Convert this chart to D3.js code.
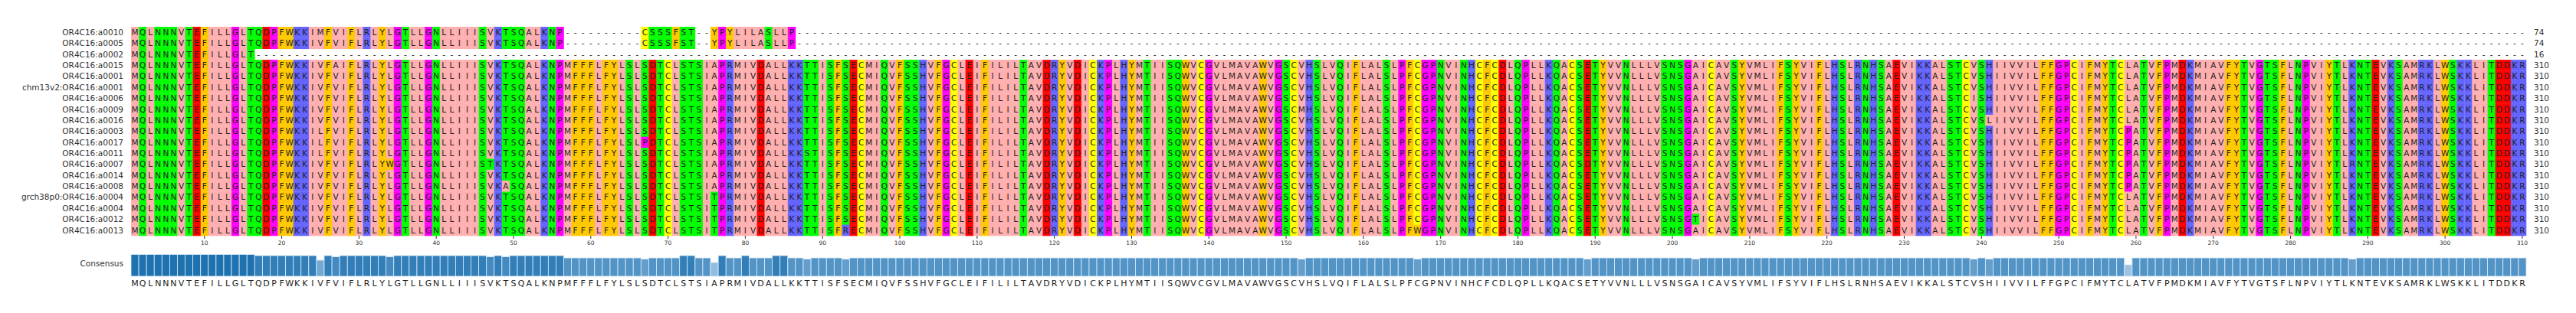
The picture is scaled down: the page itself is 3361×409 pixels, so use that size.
<!DOCTYPE html>
<html>
<head>
<meta charset="utf-8">
<script src="https://cdn.jsdelivr.net/npm/d3@7"></script>
<style>
  body { margin: 0; background: #fff; }
  text { font-family: "DejaVu Sans", sans-serif; }
</style>
</head>
<body>
<svg id="msa" width="3361" height="409"></svg>
<script>
// sequence names, top to bottom
const names = [
  'OR4C16:a0010', 'OR4C16:a0005', 'OR4C16:a0002', 'OR4C16:a0015', 'OR4C16:a0001',
  'chm13v2:OR4C16:a0001', 'OR4C16:a0006', 'OR4C16:a0009', 'OR4C16:a0016', 'OR4C16:a0003',
  'OR4C16:a0017', 'OR4C16:a0011', 'OR4C16:a0007', 'OR4C16:a0014', 'OR4C16:a0008',
  'grch38p0:OR4C16:a0004', 'OR4C16:a0004', 'OR4C16:a0012', 'OR4C16:a0013'
]
const lengths = [74, 74, 16, 310, 310, 310, 310, 310, 310, 310, 310, 310, 310, 310, 310, 310, 310, 310, 310]

const consensus =
  'MQLNNNVTEFILLGLTQDPFWKKIVFVIFLRLYLGTLLGNLLIIISVKTSQALKNPMFFFLFYLSLSDTCLSTSIAPRM' +
  'IVDALLKKTTISFSECMIQVFSSHVFGCLEIFILILTAVDRYVDICKPLHYMTIISQWVCGVLMAVAWVGSCVHSLVQI' +
  'FLALSLPFCGPNVINHCFCDLQPLLKQACSETYVVNLLLVSNSGAICAVSYVMLIFSYVIFLHSLRNHSAEVIKKALS' +
  'TCVSHIIVVILFFGPCIFMYTCLATVFPMDKMIAVFYTVGTSFLNPVIYTLKNTEVKSAMRKLWSKKLITDDKR'

// tail of the two short sequences after residue 56
const shortTail = '----------CSSSFST--YPYLILASLLP'

// substitutions: [row, position, residue]
const variants = [
  [0, 25, 'M'], [3, 27, 'A'], [9, 25, 'L'], [10, 25, 'L'], [11, 25, 'L'],
  [10, 67, 'P'], [12, 34, 'W'], [12, 47, 'T'], [14, 49, 'A'],
  [15, 76, 'T'], [16, 76, 'T'], [17, 76, 'T'], [18, 76, 'T'],
  [11, 88, 'S'], [18, 93, 'R'], [7, 152, 'M'],
  [12, 189, 'D'], [17, 203, 'T'], [18, 167, 'W'],
  [6, 239, 'I'], [8, 241, 'L'],
  [9, 259, 'P'], [10, 259, 'P'], [11, 259, 'P'], [12, 259, 'P'], [13, 259, 'P'], [14, 259, 'P'],
  [12, 288, 'R']
]

const tickValues = d3.range(10, 311, 10)

// Zappo colours
const zappo = {
  I: '#ffafaf', L: '#ffafaf', V: '#ffafaf', A: '#ffafaf', M: '#ffafaf',
  F: '#ffc800', W: '#ffc800', Y: '#ffc800',
  K: '#6464ff', R: '#6464ff', H: '#6464ff',
  D: '#ff0000', E: '#ff0000',
  S: '#00ff00', T: '#00ff00', N: '#00ff00', Q: '#00ff00',
  P: '#ff00ff', G: '#ff00ff',
  C: '#ffff00'
}

// build the rows
const seqs = names.map((n, i) => {
  let s
  if (i === 0 || i === 1) s = consensus.slice(0, 56) + shortTail
  else if (i === 2) s = consensus.slice(0, 16)
  else s = consensus
  s = s.padEnd(310, '-').split('')
  return s
})
variants.forEach(([r, p, aa]) => { seqs[r][p - 1] = aa })

const positions = d3.range(1, 311)
const svg = d3.select('#msa')

const x = d3.scaleBand().domain(positions).range([171, 3296])
const y = d3.scaleBand().domain(d3.range(names.length)).range([35, 308])

// residue cells
const cells = []
seqs.forEach((s, r) => s.forEach((aa, i) => cells.push({ r, pos: i + 1, aa })))

svg.append('g').selectAll('rect')
  .data(cells.filter(d => d.aa !== '-'))
  .join('rect')
  .attr('x', d => x(d.pos))
  .attr('y', d => y(d.r))
  .attr('width', x.bandwidth() + 0.3)
  .attr('height', y.bandwidth() + 0.3)
  .attr('fill', d => zappo[d.aa] || '#fff')

svg.append('g').selectAll('text')
  .data(cells)
  .join('text')
  .attr('x', d => x(d.pos) + x.bandwidth() / 2)
  .attr('y', d => y(d.r) + y.bandwidth() / 2)
  .attr('dy', '0.36em')
  .attr('text-anchor', 'middle')
  .attr('font-size', 10.5)
  .attr('fill', '#222')
  .text(d => d.aa)

// names
svg.append('g').selectAll('text')
  .data(names)
  .join('text')
  .attr('x', 161)
  .attr('y', (d, i) => y(i) + y.bandwidth() / 2)
  .attr('dy', '0.36em')
  .attr('text-anchor', 'end')
  .attr('font-size', 10.5)
  .attr('fill', '#333')
  .text(d => d)

// lengths on the right
svg.append('g').selectAll('text')
  .data(lengths)
  .join('text')
  .attr('x', 3306)
  .attr('y', (d, i) => y(i) + y.bandwidth() / 2)
  .attr('dy', '0.36em')
  .attr('font-size', 10.5)
  .attr('fill', '#333')
  .text(d => d)

// position axis
const axis = svg.append('g')
  .attr('transform', 'translate(0,308)')
  .call(d3.axisBottom(x).tickValues(tickValues).tickSize(4).tickPadding(3))
axis.select('.domain').remove()
axis.selectAll('text').attr('font-size', 7.5).attr('font-family', '"DejaVu Sans", sans-serif').attr('fill', '#333')
axis.selectAll('line').attr('stroke', '#333')

// consensus bars: identity with consensus, gaps count as mismatch
const ident = positions.map(p => {
  const c = consensus[p - 1]
  return seqs.filter(s => s[p - 1] === c).length / seqs.length
})
const h = d3.scaleLinear().domain([0, 1]).range([0, 28.5])
const col = d3.scaleLinear().domain([0.6, 0.9, 1]).range(['#9cc3e2', '#4189c1', '#1f72b0']).clamp(true)
svg.append('g').selectAll('rect')
  .data(positions)
  .join('rect')
  .attr('x', p => x(p))
  .attr('y', p => 361 - h(ident[p - 1]))
  .attr('width', x.bandwidth())
  .attr('height', p => h(ident[p - 1]))
  .attr('fill', p => col(ident[p - 1]))
  .attr('stroke', '#dcebf6')
  .attr('stroke-width', 0.8)

svg.append('text')
  .attr('x', 161).attr('y', 348)
  .attr('text-anchor', 'end')
  .attr('font-size', 10.5)
  .attr('fill', '#333')
  .text('Consensus')

svg.append('g').selectAll('text')
  .data(positions)
  .join('text')
  .attr('x', p => x(p) + x.bandwidth() / 2)
  .attr('y', 370)
  .attr('dy', '0.36em')
  .attr('text-anchor', 'middle')
  .attr('font-size', 11)
  .attr('fill', '#222')
  .text(p => consensus[p - 1])
</script>
</body>
</html>
